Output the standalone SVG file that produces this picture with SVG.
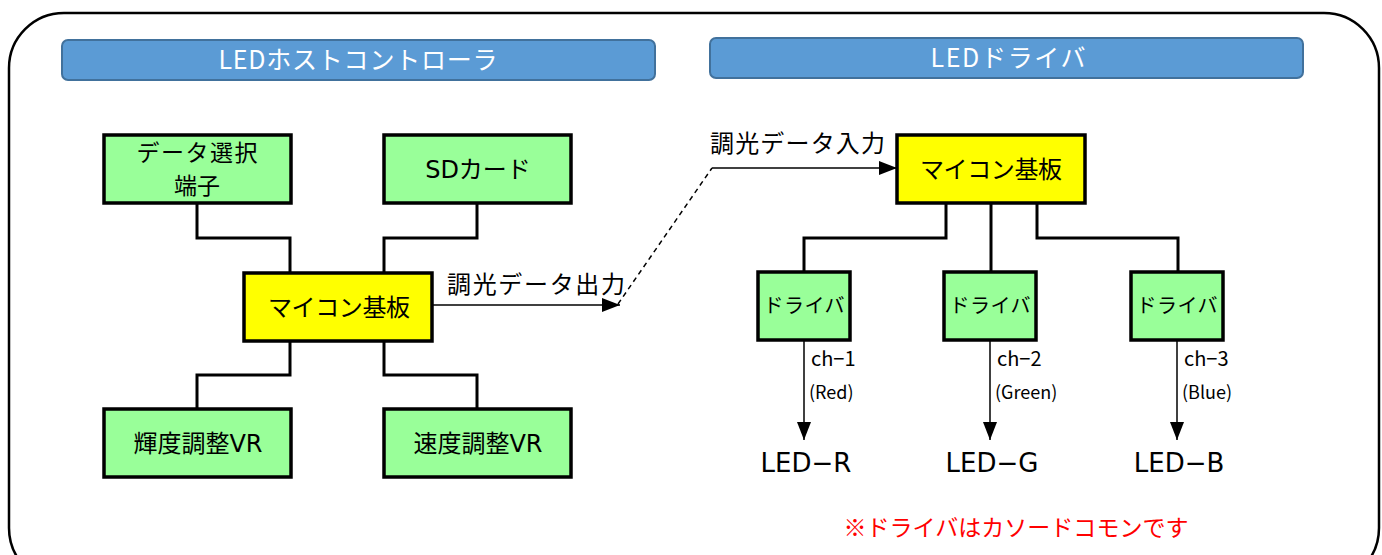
<svg xmlns="http://www.w3.org/2000/svg" width="1382" height="555" viewBox="0 0 1382 555">
<defs>
<style>
.t{font-family:"Noto Sans CJK JP","Liberation Sans",sans-serif;fill:#000;text-anchor:middle}
.l{font-family:"DejaVu Sans","Noto Sans CJK JP",sans-serif;fill:#000;text-anchor:middle}
.s{text-anchor:start}
.hdr{fill:#5B9BD5;stroke:#41719C;stroke-width:2}
.ht{font-family:"Noto Sans CJK JP","Liberation Sans",sans-serif;fill:#fff;font-size:25px;text-anchor:middle}
.g{fill:#99FF99;stroke:#000;stroke-width:3.5}
.y{fill:#FFFF00;stroke:#000;stroke-width:3.5}
.w{fill:none;stroke:#000;stroke-width:3}
.a{fill:none;stroke:#000;stroke-width:1.5}
</style>
<marker id="ahb" markerWidth="18" markerHeight="14" refX="18" refY="7" orient="auto" markerUnits="userSpaceOnUse" viewBox="0 0 18 14">
<path d="M0,0 L18,7 L0,14 z" fill="#000"/>
</marker>
</defs>
<rect x="9" y="13" width="1370" height="570" rx="55" fill="#fff" stroke="#000" stroke-width="2.5"/>

<g id="hdr-host"><rect class="hdr" x="62" y="40" width="593" height="40" rx="6"/><text class="ht" x="358" y="69" textLength="279">LEDホストコントローラ</text></g>
<g id="hdr-driver"><rect class="hdr" x="710" y="38" width="593" height="40" rx="6"/><text class="ht" x="1008" y="67" textLength="155">LEDドライバ</text></g>

<g id="connectors">
<polyline class="w" points="197,203 197,238 290,238 290,273"/>
<polyline class="w" points="477,203 477,238 384,238 384,273"/>
<polyline class="w" points="290,341 290,375 197,375 197,409"/>
<polyline class="w" points="384,341 384,375 477,375 477,409"/>
<line class="a" x1="432" y1="305" x2="620" y2="305" marker-end="url(#ahb)"/>
<line x1="618" y1="304" x2="712" y2="168" stroke="#000" stroke-width="1.5" stroke-dasharray="5,4"/>
<line class="a" x1="712" y1="168" x2="897" y2="168" marker-end="url(#ahb)"/>
<polyline class="w" points="946,203 946,238 804,238 804,272"/>
<polyline class="w" points="991,203 991,272"/>
<polyline class="w" points="1037,203 1037,238 1178,238 1178,272"/>
<line class="a" x1="804" y1="340" x2="804" y2="440" marker-end="url(#ahb)"/>
<line class="a" x1="990" y1="340" x2="990" y2="440" marker-end="url(#ahb)"/>
<line class="a" x1="1177" y1="340" x2="1177" y2="440" marker-end="url(#ahb)"/>
<text class="t s" x="447" y="293" font-size="24" textLength="178">調光データ出力</text>
<text class="t s" x="710" y="152" font-size="24" textLength="175">調光データ入力</text>
<text class="t s" x="811" y="366" font-size="20">ch−1</text>
<text class="t s" x="809" y="399" font-size="18">(Red)</text>
<text class="t s" x="997" y="366" font-size="20">ch−2</text>
<text class="t s" x="995" y="399" font-size="18">(Green)</text>
<text class="t s" x="1184" y="366" font-size="20">ch−3</text>
<text class="t s" x="1182" y="399" font-size="18">(Blue)</text>
</g>

<g id="n-select"><rect class="g" x="104" y="135" width="187" height="68"/><text class="t" x="197" y="161" font-size="23" textLength="121">データ選択</text><text class="t" x="197" y="194" font-size="23">端子</text></g>
<g id="n-sd"><rect class="g" x="384" y="135" width="187" height="68"/><text class="l" x="478" y="178" font-size="24">SDカード</text></g>
<g id="n-mcu1"><rect class="y" x="244" y="273" width="188" height="68"/><text class="t" x="339" y="316" font-size="24" textLength="142">マイコン基板</text></g>
<g id="n-bright"><rect class="g" x="104" y="409" width="187" height="68"/><text class="l" x="198" y="452" font-size="24">輝度調整VR</text></g>
<g id="n-speed"><rect class="g" x="384" y="409" width="187" height="68"/><text class="l" x="478" y="452" font-size="24">速度調整VR</text></g>
<g id="n-mcu2"><rect class="y" x="897" y="135" width="188" height="68"/><text class="t" x="991" y="178" font-size="24" textLength="142">マイコン基板</text></g>
<g id="n-drv1"><rect class="g" x="758" y="272" width="92" height="68"/><text class="t" x="804" y="313" font-size="20" textLength="81">ドライバ</text></g>
<g id="n-drv2"><rect class="g" x="944" y="272" width="92" height="68"/><text class="t" x="990" y="313" font-size="20" textLength="81">ドライバ</text></g>
<g id="n-drv3"><rect class="g" x="1131" y="272" width="92" height="68"/><text class="t" x="1177" y="313" font-size="20" textLength="81">ドライバ</text></g>
<g id="n-ledr"><text class="l" x="806" y="472" font-size="26">LED−R</text></g>
<g id="n-ledg"><text class="l" x="992" y="472" font-size="26">LED−G</text></g>
<g id="n-ledb"><text class="l" x="1179" y="472" font-size="26">LED−B</text></g>
<text x="1016" y="536" font-family="Noto Sans CJK JP, Liberation Sans, sans-serif" font-size="23" fill="#FF0000" text-anchor="middle" textLength="345">※ドライバはカソードコモンです</text>
</svg>
